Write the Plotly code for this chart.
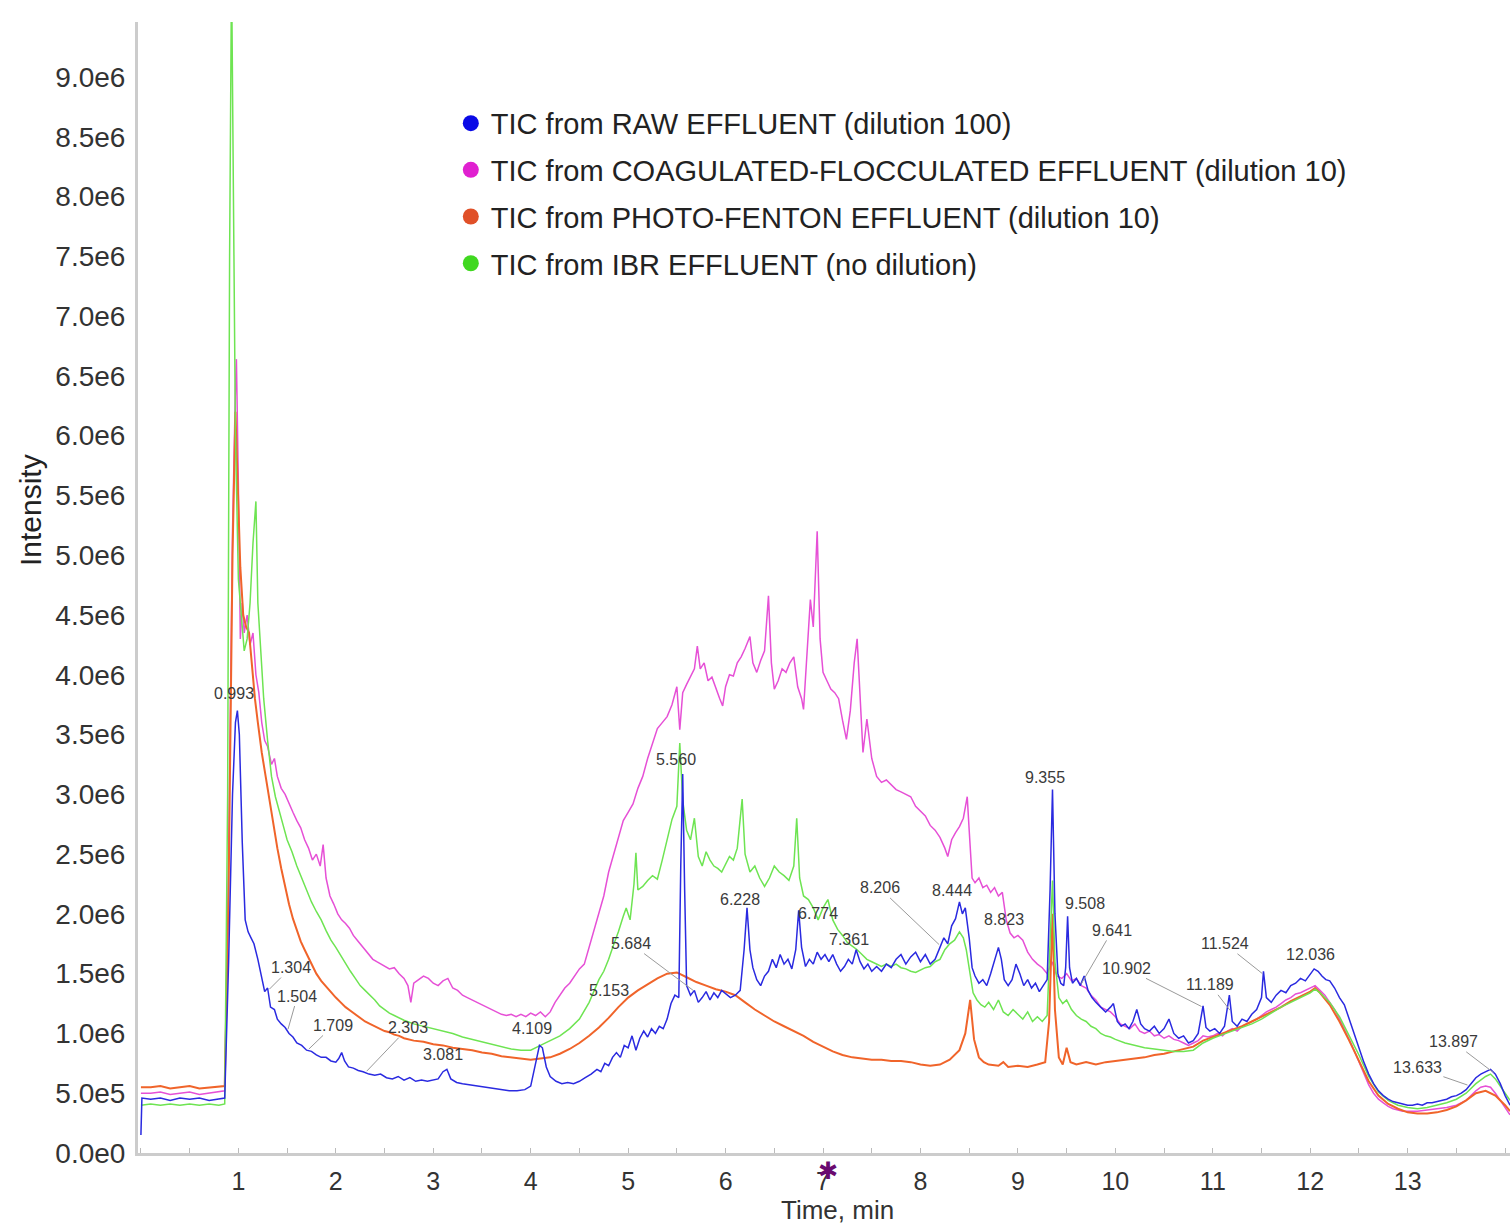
import plotly.graph_objects as go
import numpy as np

# ---------------- data (intensity in units of 1e6 counts) ----------------
raw_t = [0.0, 0.01, 0.1, 0.2, 0.3, 0.4, 0.5, 0.6, 0.7, 0.8, 0.86, 0.9, 0.94, 0.97, 0.99, 1.01, 1.04, 1.07, 1.10, 1.13,
         1.16, 1.20, 1.24, 1.27, 1.30, 1.33, 1.37, 1.40, 1.44, 1.48, 1.52, 1.56, 1.60, 1.65, 1.70, 1.75, 1.80, 1.85, 1.90, 1.95,
         2.00, 2.03, 2.06, 2.09, 2.13, 2.18, 2.23, 2.28, 2.34, 2.40, 2.46, 2.52, 2.58, 2.64, 2.70, 2.76, 2.82, 2.88, 2.94, 3.00,
         3.05, 3.10, 3.14, 3.18, 3.24, 3.30, 3.38, 3.46, 3.54, 3.62, 3.70, 3.78, 3.86, 3.94, 4.00, 4.05, 4.09, 4.12, 4.16, 4.20,
         4.26, 4.32, 4.38, 4.44, 4.50, 4.56, 4.62, 4.68, 4.72, 4.76, 4.80, 4.84, 4.88, 4.92, 4.96, 5.00, 5.04, 5.08, 5.12, 5.16,
         5.20, 5.24, 5.28, 5.32, 5.36, 5.40, 5.44, 5.48, 5.52, 5.54, 5.56, 5.58, 5.60, 5.64, 5.68, 5.72, 5.76, 5.80, 5.84, 5.88,
         5.92, 5.96, 6.00, 6.05, 6.10, 6.15, 6.19, 6.22, 6.25, 6.28, 6.32, 6.36, 6.40, 6.44, 6.48, 6.52, 6.56, 6.60, 6.64, 6.68,
         6.72, 6.75, 6.78, 6.82, 6.86, 6.90, 6.94, 6.98, 7.02, 7.06, 7.10, 7.14, 7.18, 7.22, 7.26, 7.30, 7.34, 7.38, 7.42, 7.46,
         7.50, 7.55, 7.60, 7.65, 7.70, 7.75, 7.80, 7.85, 7.90, 7.95, 8.00, 8.05, 8.10, 8.15, 8.20, 8.24, 8.28, 8.32, 8.36, 8.40,
         8.43, 8.46, 8.50, 8.53, 8.56, 8.60, 8.64, 8.68, 8.72, 8.76, 8.80, 8.83, 8.86, 8.90, 8.94, 8.98, 9.02, 9.06, 9.10, 9.14,
         9.18, 9.22, 9.26, 9.30, 9.33, 9.355, 9.38, 9.41, 9.44, 9.47, 9.49, 9.51, 9.53, 9.56, 9.60, 9.64, 9.68, 9.72, 9.76, 9.80,
         9.85, 9.90, 9.95, 9.98, 10.02, 10.06, 10.10, 10.14, 10.18, 10.22, 10.26, 10.30, 10.35, 10.40, 10.45, 10.50, 10.55, 10.60, 10.65, 10.70,
         10.75, 10.80, 10.85, 10.90, 10.93, 10.97, 11.02, 11.07, 11.12, 11.17, 11.20, 11.25, 11.30, 11.35, 11.40, 11.45, 11.50, 11.52, 11.55, 11.60,
         11.65, 11.70, 11.75, 11.80, 11.85, 11.90, 11.95, 12.00, 12.04, 12.08, 12.12, 12.16, 12.20, 12.25, 12.30, 12.35, 12.40, 12.45, 12.50, 12.55,
         12.60, 12.65, 12.70, 12.75, 12.80, 12.85, 12.90, 12.95, 13.00, 13.05, 13.10, 13.15, 13.20, 13.25, 13.30, 13.35, 13.40, 13.45, 13.50, 13.55,
         13.60, 13.65, 13.70, 13.75, 13.80, 13.85, 13.90, 13.95, 14.00, 14.05]
raw_i = [0.15, 0.46, 0.45, 0.46, 0.44, 0.46, 0.45, 0.46, 0.44, 0.45, 0.46, 1.60, 3.00, 3.60, 3.70, 3.50, 2.60, 1.95, 1.85, 1.80,
         1.75, 1.62, 1.45, 1.35, 1.38, 1.22, 1.20, 1.12, 1.08, 1.05, 1.00, 0.97, 0.92, 0.90, 0.86, 0.85, 0.82, 0.80, 0.80, 0.77,
         0.76, 0.79, 0.84, 0.77, 0.72, 0.71, 0.69, 0.68, 0.66, 0.65, 0.66, 0.63, 0.62, 0.64, 0.61, 0.63, 0.60, 0.61, 0.60, 0.61,
         0.62, 0.68, 0.70, 0.62, 0.59, 0.58, 0.57, 0.56, 0.55, 0.54, 0.53, 0.52, 0.52, 0.53, 0.56, 0.75, 0.90, 0.88, 0.72, 0.64,
         0.60, 0.58, 0.59, 0.58, 0.60, 0.63, 0.66, 0.70, 0.68, 0.75, 0.73, 0.80, 0.84, 0.80, 0.90, 0.88, 0.98, 0.86, 0.96, 1.02,
         0.97, 1.04, 1.00, 1.06, 1.04, 1.12, 1.25, 1.32, 1.30, 2.40, 3.17, 2.20, 1.40, 1.32, 1.36, 1.26, 1.30, 1.35, 1.28, 1.34,
         1.30, 1.36, 1.33, 1.30, 1.32, 1.36, 1.70, 2.05, 1.70, 1.55, 1.45, 1.40, 1.48, 1.52, 1.62, 1.55, 1.66, 1.58, 1.62, 1.54,
         1.70, 2.03, 1.72, 1.56, 1.62, 1.58, 1.68, 1.62, 1.66, 1.60, 1.66, 1.58, 1.52, 1.56, 1.62, 1.58, 1.70, 1.60, 1.54, 1.58,
         1.52, 1.56, 1.52, 1.58, 1.55, 1.62, 1.66, 1.58, 1.64, 1.68, 1.60, 1.66, 1.58, 1.62, 1.72, 1.80, 1.75, 1.90, 1.96, 2.10,
         2.00, 2.05, 1.80, 1.55, 1.48, 1.42, 1.45, 1.40, 1.50, 1.62, 1.72, 1.62, 1.45, 1.40, 1.45, 1.58, 1.50, 1.40, 1.45, 1.38,
         1.42, 1.35, 1.40, 1.45, 2.20, 3.04, 2.00, 1.50, 1.42, 1.40, 1.55, 1.98, 1.55, 1.42, 1.46, 1.40, 1.48, 1.36, 1.30, 1.26,
         1.22, 1.18, 1.22, 1.25, 1.10, 1.06, 1.08, 1.04, 1.10, 1.20, 1.08, 1.04, 1.02, 1.06, 1.00, 1.04, 1.12, 1.00, 0.96, 0.98,
         0.92, 0.94, 1.00, 1.23, 1.05, 1.02, 1.04, 1.00, 1.06, 1.32, 1.10, 1.06, 1.12, 1.10, 1.16, 1.20, 1.30, 1.52, 1.30, 1.26,
         1.32, 1.36, 1.34, 1.40, 1.42, 1.46, 1.44, 1.50, 1.54, 1.52, 1.48, 1.45, 1.44, 1.38, 1.30, 1.24, 1.12, 1.00, 0.88, 0.76,
         0.66, 0.58, 0.52, 0.48, 0.45, 0.43, 0.42, 0.41, 0.40, 0.40, 0.41, 0.40, 0.42, 0.42, 0.43, 0.44, 0.45, 0.47, 0.48, 0.50,
         0.53, 0.58, 0.63, 0.66, 0.68, 0.70, 0.66, 0.58, 0.48, 0.40]

coag_t = [0.0, 0.1, 0.2, 0.3, 0.4, 0.5, 0.6, 0.7, 0.8, 0.86, 0.90, 0.94, 0.97, 0.98, 1.00, 1.02, 1.04, 1.06, 1.09, 1.12,
          1.15, 1.18, 1.21, 1.24, 1.27, 1.30, 1.34, 1.37, 1.40, 1.44, 1.48, 1.52, 1.56, 1.60, 1.64, 1.68, 1.72, 1.76, 1.80, 1.84,
          1.87, 1.90, 1.94, 1.98, 2.02, 2.06, 2.10, 2.14, 2.18, 2.22, 2.26, 2.30, 2.34, 2.38, 2.42, 2.46, 2.50, 2.55, 2.60, 2.65,
          2.70, 2.74, 2.77, 2.80, 2.85, 2.90, 2.95, 3.00, 3.05, 3.10, 3.15, 3.20, 3.25, 3.30, 3.35, 3.40, 3.45, 3.50, 3.55, 3.60,
          3.65, 3.70, 3.75, 3.80, 3.85, 3.90, 3.95, 4.00, 4.05, 4.10, 4.15, 4.20, 4.25, 4.30, 4.35, 4.40, 4.45, 4.50, 4.55, 4.60,
          4.65, 4.70, 4.75, 4.80, 4.85, 4.90, 4.95, 5.00, 5.05, 5.10, 5.15, 5.20, 5.25, 5.30, 5.35, 5.40, 5.45, 5.50, 5.53, 5.56,
          5.60, 5.64, 5.68, 5.71, 5.74, 5.78, 5.82, 5.86, 5.90, 5.94, 5.97, 6.00, 6.04, 6.08, 6.12, 6.16, 6.20, 6.25, 6.28, 6.32,
          6.36, 6.40, 6.44, 6.47, 6.50, 6.54, 6.58, 6.62, 6.66, 6.70, 6.74, 6.78, 6.80, 6.84, 6.87, 6.90, 6.94, 6.97, 7.00, 7.04,
          7.08, 7.12, 7.16, 7.20, 7.24, 7.28, 7.32, 7.35, 7.38, 7.41, 7.45, 7.50, 7.55, 7.60, 7.65, 7.70, 7.75, 7.80, 7.85, 7.90,
          7.95, 8.00, 8.05, 8.10, 8.15, 8.20, 8.25, 8.28, 8.32, 8.36, 8.40, 8.44, 8.48, 8.50, 8.53, 8.56, 8.60, 8.64, 8.68, 8.72,
          8.76, 8.80, 8.84, 8.88, 8.92, 8.96, 9.00, 9.05, 9.10, 9.15, 9.20, 9.25, 9.30, 9.35, 9.40, 9.45, 9.50, 9.55, 9.60, 9.65,
          9.70, 9.75, 9.80, 9.85, 9.90, 9.95, 10.00, 10.05, 10.10, 10.15, 10.20, 10.25, 10.30, 10.35, 10.40, 10.45, 10.50, 10.55, 10.60, 10.65,
          10.70, 10.75, 10.80, 10.85, 10.90, 10.95, 11.00, 11.05, 11.10, 11.15, 11.20, 11.25, 11.30, 11.35, 11.40, 11.45, 11.50, 11.55, 11.60, 11.65,
          11.70, 11.75, 11.80, 11.85, 11.90, 11.95, 12.00, 12.05, 12.10, 12.15, 12.20, 12.25, 12.30, 12.35, 12.40, 12.45, 12.50, 12.55, 12.60, 12.65,
          12.70, 12.75, 12.80, 12.85, 12.90, 12.95, 13.00, 13.10, 13.20, 13.30, 13.40, 13.50, 13.60, 13.65, 13.70, 13.75, 13.80, 13.85, 13.90, 13.95,
          14.00, 14.05]
coag_i = [0.50, 0.50, 0.51, 0.49, 0.50, 0.51, 0.49, 0.50, 0.51, 0.52, 2.50, 5.20, 6.40, 6.64, 5.60, 4.30, 4.60, 4.35, 4.50, 4.25,
          4.35, 4.00, 3.85, 3.60, 3.45, 3.40, 3.25, 3.30, 3.15, 3.05, 3.00, 2.92, 2.85, 2.78, 2.72, 2.62, 2.55, 2.45, 2.50, 2.40,
          2.58, 2.30, 2.15, 2.08, 2.00, 1.95, 1.92, 1.88, 1.82, 1.78, 1.74, 1.70, 1.66, 1.62, 1.60, 1.58, 1.56, 1.54, 1.55, 1.50,
          1.46, 1.40, 1.26, 1.42, 1.45, 1.48, 1.46, 1.42, 1.40, 1.44, 1.46, 1.38, 1.36, 1.32, 1.30, 1.28, 1.26, 1.24, 1.22, 1.20,
          1.18, 1.16, 1.15, 1.16, 1.14, 1.16, 1.14, 1.17, 1.15, 1.18, 1.14, 1.18, 1.26, 1.32, 1.38, 1.42, 1.48, 1.54, 1.58, 1.72,
          1.86, 2.00, 2.15, 2.35, 2.50, 2.65, 2.78, 2.85, 2.92, 3.05, 3.15, 3.30, 3.42, 3.55, 3.60, 3.65, 3.75, 3.90, 3.54, 3.85,
          3.92, 3.98, 4.05, 4.24, 4.05, 4.10, 3.95, 3.98, 3.88, 3.80, 3.74, 3.90, 4.00, 3.99, 4.10, 4.15, 4.22, 4.32, 4.10, 4.02,
          4.12, 4.20, 4.66, 4.10, 3.88, 3.95, 4.05, 4.02, 4.10, 4.15, 3.90, 3.80, 3.71, 4.20, 4.63, 4.40, 5.20, 4.30, 4.02, 3.95,
          3.88, 3.85, 3.80, 3.62, 3.46, 3.70, 4.10, 4.30, 3.80, 3.35, 3.63, 3.30, 3.15, 3.10, 3.12, 3.08, 3.04, 3.02, 3.00, 2.98,
          2.90, 2.86, 2.82, 2.74, 2.70, 2.64, 2.55, 2.48, 2.62, 2.68, 2.73, 2.80, 2.98, 2.70, 2.30, 2.26, 2.30, 2.22, 2.24, 2.18,
          2.22, 2.15, 2.18, 1.95, 1.84, 1.80, 1.82, 1.78, 1.68, 1.62, 1.58, 1.55, 1.50, 1.60, 1.48, 1.46, 1.50, 1.44, 1.46, 1.40,
          1.38, 1.32, 1.28, 1.22, 1.20, 1.18, 1.14, 1.08, 1.06, 1.04, 1.08, 1.02, 1.00, 1.02, 0.98, 0.99, 0.96, 0.98, 0.95, 0.94,
          0.92, 0.90, 0.92, 0.94, 0.98, 0.97, 0.98, 1.00, 0.98, 1.02, 1.04, 1.02, 1.06, 1.08, 1.10, 1.12, 1.15, 1.18, 1.20, 1.22,
          1.25, 1.28, 1.30, 1.33, 1.34, 1.36, 1.38, 1.40, 1.36, 1.32, 1.26, 1.20, 1.12, 1.04, 0.95, 0.86, 0.76, 0.66, 0.57, 0.50,
          0.45, 0.42, 0.39, 0.37, 0.36, 0.35, 0.35, 0.35, 0.36, 0.37, 0.38, 0.40, 0.44, 0.48, 0.52, 0.55, 0.56, 0.55, 0.50, 0.44,
          0.38, 0.32]

photo_t = [0.0, 0.1, 0.2, 0.3, 0.4, 0.5, 0.6, 0.7, 0.8, 0.86, 0.90, 0.94, 0.97, 0.99, 1.02, 1.05, 1.08, 1.11, 1.14, 1.17,
           1.20, 1.24, 1.28, 1.32, 1.36, 1.40, 1.44, 1.48, 1.52, 1.56, 1.60, 1.64, 1.68, 1.72, 1.76, 1.80, 1.85, 1.90, 1.95, 2.00,
           2.05, 2.10, 2.15, 2.20, 2.25, 2.30, 2.35, 2.40, 2.45, 2.50, 2.55, 2.60, 2.65, 2.70, 2.80, 2.90, 3.00, 3.10, 3.20, 3.30,
           3.40, 3.50, 3.60, 3.70, 3.80, 3.90, 4.00, 4.10, 4.20, 4.30, 4.40, 4.50, 4.60, 4.70, 4.80, 4.90, 5.00, 5.10, 5.20, 5.30,
           5.40, 5.50, 5.60, 5.70, 5.80, 5.90, 6.00, 6.10, 6.20, 6.30, 6.40, 6.50, 6.60, 6.70, 6.80, 6.90, 7.00, 7.10, 7.20, 7.30,
           7.40, 7.50, 7.60, 7.70, 7.80, 7.90, 8.00, 8.10, 8.20, 8.30, 8.40, 8.46, 8.51, 8.55, 8.60, 8.65, 8.70, 8.80, 8.85, 8.90,
           9.00, 9.10, 9.20, 9.28, 9.32, 9.355, 9.38, 9.42, 9.46, 9.50, 9.54, 9.60, 9.70, 9.80, 9.90, 10.00, 10.10, 10.20, 10.30, 10.40,
           10.50, 10.60, 10.70, 10.80, 10.90, 11.00, 11.10, 11.20, 11.30, 11.40, 11.50, 11.60, 11.70, 11.80, 11.90, 12.00, 12.05, 12.10, 12.20, 12.30,
           12.40, 12.50, 12.60, 12.70, 12.80, 12.90, 13.00, 13.10, 13.20, 13.30, 13.40, 13.50, 13.60, 13.70, 13.80, 13.90, 14.00, 14.05]
photo_i = [0.55, 0.55, 0.56, 0.54, 0.55, 0.56, 0.54, 0.55, 0.56, 0.56, 2.20, 5.00, 6.20, 5.60, 4.90, 4.50, 4.40, 4.35, 4.05, 3.80,
           3.60, 3.35, 3.15, 2.95, 2.72, 2.55, 2.38, 2.22, 2.08, 1.96, 1.86, 1.77, 1.70, 1.63, 1.56, 1.50, 1.44, 1.39, 1.34, 1.30,
           1.26, 1.22, 1.19, 1.16, 1.13, 1.10, 1.08, 1.06, 1.04, 1.02, 1.01, 0.99, 0.98, 0.96, 0.94, 0.93, 0.91, 0.90, 0.88, 0.87,
           0.86, 0.84, 0.83, 0.81, 0.80, 0.79, 0.78, 0.79, 0.80, 0.83, 0.87, 0.92, 0.98, 1.05, 1.13, 1.22, 1.30, 1.36, 1.41, 1.46,
           1.50, 1.51, 1.47, 1.43, 1.40, 1.37, 1.35, 1.32, 1.26, 1.20, 1.15, 1.10, 1.06, 1.02, 0.98, 0.93, 0.89, 0.85, 0.82, 0.80,
           0.79, 0.78, 0.78, 0.77, 0.77, 0.76, 0.74, 0.73, 0.74, 0.78, 0.86, 1.00, 1.28, 0.95, 0.80, 0.76, 0.74, 0.73, 0.76, 0.72,
           0.73, 0.72, 0.74, 0.76, 1.10, 2.00, 1.20, 0.80, 0.74, 0.88, 0.76, 0.74, 0.76, 0.74, 0.76, 0.77, 0.78, 0.79, 0.80, 0.82,
           0.83, 0.85, 0.87, 0.89, 0.94, 0.97, 1.00, 1.03, 1.06, 1.10, 1.14, 1.18, 1.22, 1.27, 1.31, 1.35, 1.38, 1.34, 1.24, 1.10,
           0.94, 0.77, 0.60, 0.48, 0.41, 0.37, 0.34, 0.33, 0.33, 0.34, 0.36, 0.39, 0.44, 0.50, 0.52, 0.48, 0.40, 0.35]

ibr_t = [0.0, 0.1, 0.2, 0.3, 0.4, 0.5, 0.6, 0.7, 0.8, 0.86, 0.89, 0.91, 0.93, 0.95, 0.97, 1.00, 1.03, 1.06, 1.09, 1.12,
         1.15, 1.18, 1.20, 1.23, 1.26, 1.30, 1.34, 1.38, 1.42, 1.46, 1.50, 1.55, 1.60, 1.65, 1.70, 1.75, 1.80, 1.85, 1.90, 1.95,
         2.00, 2.05, 2.10, 2.15, 2.20, 2.25, 2.30, 2.35, 2.40, 2.45, 2.50, 2.55, 2.60, 2.65, 2.70, 2.80, 2.90, 3.00, 3.10, 3.20,
         3.30, 3.40, 3.50, 3.60, 3.70, 3.80, 3.90, 4.00, 4.10, 4.20, 4.30, 4.40, 4.50, 4.60, 4.65, 4.70, 4.75, 4.80, 4.85, 4.90,
         4.95, 4.98, 5.02, 5.06, 5.08, 5.10, 5.15, 5.20, 5.25, 5.30, 5.35, 5.40, 5.45, 5.50, 5.53, 5.56, 5.60, 5.64, 5.68, 5.72,
         5.76, 5.80, 5.84, 5.88, 5.92, 5.96, 6.00, 6.04, 6.08, 6.12, 6.17, 6.20, 6.25, 6.30, 6.35, 6.40, 6.45, 6.50, 6.55, 6.60,
         6.65, 6.70, 6.73, 6.76, 6.80, 6.85, 6.90, 6.95, 7.00, 7.05, 7.10, 7.15, 7.20, 7.25, 7.30, 7.35, 7.40, 7.45, 7.50, 7.55,
         7.60, 7.65, 7.70, 7.75, 7.80, 7.85, 7.90, 7.95, 8.00, 8.05, 8.10, 8.15, 8.20, 8.25, 8.30, 8.35, 8.40, 8.44, 8.47, 8.50,
         8.54, 8.58, 8.62, 8.66, 8.70, 8.75, 8.80, 8.85, 8.90, 8.95, 9.00, 9.05, 9.10, 9.15, 9.20, 9.25, 9.30, 9.33, 9.355, 9.38,
         9.42, 9.46, 9.50, 9.55, 9.60, 9.65, 9.70, 9.75, 9.80, 9.85, 9.90, 9.95, 10.00, 10.10, 10.20, 10.30, 10.40, 10.50, 10.60, 10.70,
         10.80, 10.90, 11.00, 11.10, 11.20, 11.30, 11.40, 11.50, 11.60, 11.70, 11.80, 11.90, 12.00, 12.05, 12.10, 12.20, 12.30, 12.40, 12.50, 12.60,
         12.70, 12.80, 12.90, 13.00, 13.10, 13.20, 13.30, 13.40, 13.50, 13.60, 13.70, 13.80, 13.85, 13.90, 14.00, 14.05]
ibr_i = [0.40, 0.41, 0.40, 0.41, 0.40, 0.41, 0.40, 0.41, 0.40, 0.41, 3.00, 7.50, 9.90, 8.00, 6.00, 4.80, 4.50, 4.20, 4.30, 4.60,
         5.10, 5.45, 4.60, 4.20, 3.80, 3.45, 3.15, 2.98, 2.85, 2.74, 2.62, 2.52, 2.40, 2.30, 2.20, 2.10, 2.02, 1.95, 1.86, 1.78,
         1.72, 1.65, 1.58, 1.52, 1.46, 1.40, 1.36, 1.32, 1.28, 1.23, 1.20, 1.17, 1.15, 1.13, 1.11, 1.08, 1.06, 1.04, 1.02, 1.00,
         0.97, 0.95, 0.93, 0.91, 0.89, 0.87, 0.86, 0.86, 0.90, 0.94, 0.98, 1.04, 1.12, 1.26, 1.36, 1.45, 1.52, 1.62, 1.74, 1.85,
         1.98, 2.05, 1.95, 2.25, 2.51, 2.20, 2.23, 2.28, 2.32, 2.29, 2.45, 2.62, 2.79, 2.90, 3.43, 2.95, 2.70, 2.62, 2.80, 2.48,
         2.40, 2.52, 2.45, 2.40, 2.38, 2.35, 2.42, 2.48, 2.45, 2.55, 2.96, 2.50, 2.35, 2.40, 2.30, 2.23, 2.30, 2.40, 2.35, 2.32,
         2.28, 2.40, 2.80, 2.30, 2.15, 2.12, 2.05, 1.95, 2.05, 2.12, 1.95, 1.87, 1.82, 1.76, 1.73, 1.70, 1.66, 1.62, 1.60, 1.58,
         1.56, 1.58, 1.56, 1.58, 1.55, 1.54, 1.52, 1.51, 1.53, 1.55, 1.56, 1.60, 1.62, 1.70, 1.75, 1.78, 1.85, 1.80, 1.70, 1.56,
         1.34, 1.28, 1.24, 1.22, 1.26, 1.20, 1.28, 1.18, 1.15, 1.20, 1.16, 1.12, 1.18, 1.10, 1.14, 1.10, 1.15, 1.80, 2.28, 1.60,
         1.30, 1.25, 1.28, 1.20, 1.15, 1.12, 1.10, 1.06, 1.04, 1.00, 0.98, 0.97, 0.95, 0.92, 0.90, 0.88, 0.87, 0.86, 0.85, 0.85,
         0.86, 0.92, 0.96, 0.99, 1.02, 1.05, 1.08, 1.12, 1.17, 1.22, 1.26, 1.30, 1.34, 1.37, 1.34, 1.26, 1.14, 0.98, 0.82, 0.64,
         0.51, 0.44, 0.40, 0.38, 0.37, 0.38, 0.40, 0.42, 0.45, 0.50, 0.58, 0.64, 0.66, 0.62, 0.50, 0.44]

series_names = ["TIC from RAW EFFLUENT (dilution 100)",
                "TIC from COAGULATED-FLOCCULATED EFFLUENT (dilution 10)",
                "TIC from PHOTO-FENTON EFFLUENT (dilution 10)",
                "TIC from IBR EFFLUENT (no dilution)"]

# peak labels: (retention time text, offset of label from the RAW trace point in px, leader line)
peak_labels = [("0.993", -4, -21, False), ("1.304", 23, -23, True), ("1.504", 10, -35, True),
               ("1.709", 26, -25, True), ("2.303", 43, -45, True), ("3.081", 2, -20, False),
               ("4.109", -9, -18, False), ("5.153", -34, -42, False), ("5.684", -64, -48, True),
               ("5.560", -7, -15, False), ("6.228", -8, -20, False), ("6.774", 17, -26, False),
               ("7.361", -9, -17, False), ("8.206", -61, -58, True), ("8.444", -12, -21, False),
               ("8.823", 3, -37, False), ("9.355", -8, -12, False), ("9.508", 18, -18, False),
               ("9.641", 32, -55, True), ("10.902", -77, -39, True), ("11.189", -21, -27, True),
               ("11.524", -39, -31, True), ("12.036", -3, -15, False), ("13.633", -52, -18, True),
               ("13.897", -42, -32, True)]

y_ticks = [i * 0.5 for i in range(19)]
y_tick_text = ["0.0e0", "5.0e5"] + ["%.1fe6" % v for v in y_ticks[2:]]
x_ticks = list(range(1, 14))

SCALE = 1e6
FONT = "Liberation Sans, Arial, sans-serif"

line_colors = ["#2a2ae0", "#e650d6", "#f0642a", "#6ee452"]
line_widths = [1.5, 1.5, 2.0, 1.5]
dot_colors = ["#0a0ae6", "#e020d0", "#e05028", "#40d820"]
series = [(raw_t, raw_i), (coag_t, coag_i), (photo_t, photo_i), (ibr_t, ibr_i)]

fig = go.Figure()

# draw order: coag, photo, ibr, raw on top
for idx in [1, 2, 3, 0]:
    t, v = series[idx]
    fig.add_trace(go.Scatter(x=t, y=[a * SCALE for a in v], mode="lines",
                             line=dict(color=line_colors[idx], width=line_widths[idx]),
                             showlegend=False, hoverinfo="skip"))

# legend entries (dots)
for idx in range(4):
    fig.add_trace(go.Scatter(x=[None], y=[None], mode="markers", name=series_names[idx],
                             marker=dict(color=dot_colors[idx], size=16),
                             legendgroup="g%d" % idx, showlegend=True))

# start marker on the y axis
fig.add_trace(go.Scatter(x=[-0.06], y=[raw_i[1] * SCALE], mode="markers",
                         marker=dict(symbol="triangle-right", size=15, color="#101070"),
                         showlegend=False, cliponaxis=False, hoverinfo="skip"))

# peak labels
for txt, dx, dy, leader in peak_labels:
    tt = float(txt)
    yy = float(np.interp(tt, raw_t, raw_i)) * SCALE
    fig.add_annotation(x=tt, y=yy, text=txt, showarrow=True, ax=dx, ay=dy,
                       arrowhead=0, arrowwidth=1, standoff=2,
                       arrowcolor="#9a9a9a" if leader else "rgba(0,0,0,0)",
                       font=dict(family=FONT, size=16, color="#3a3a3a"))

# asterisk over the time axis
fig.add_annotation(x=7.05, y=-0.002, xref="x", yref="paper", text="✱", showarrow=False,
                   yanchor="top", font=dict(size=24, color="#6a0a70"))

# axis titles
fig.add_annotation(x=0.510, y=-0.0504, xref="paper", yref="paper", text="Time, min", showarrow=False,
                   xanchor="center", yanchor="middle", font=dict(family=FONT, size=26, color="#333333"))
fig.add_annotation(x=-0.0787, y=0.5685, xref="paper", yref="paper", text="Intensity", showarrow=False,
                   textangle=-90, xanchor="center", yanchor="middle",
                   font=dict(family=FONT, size=30, color="#222222"))

fig.update_layout(
    width=1510, height=1224,
    margin=dict(l=138, r=0, t=22, b=71),
    paper_bgcolor="white", plot_bgcolor="white",
    font=dict(family=FONT, color="#333333"),
    legend=dict(x=0.228, y=0.933, xanchor="left", yanchor="top",
                font=dict(family=FONT, size=29, color="#222222"),
                bgcolor="rgba(255,255,255,0)", tracegroupgap=6),
    xaxis=dict(range=[-0.03, 14.05], tickvals=x_ticks, ticktext=[str(v) for v in x_ticks],
               showgrid=False, zeroline=False, showline=True, linecolor="#cccccc", linewidth=3,
               ticks="inside", ticklen=5, tickcolor="#bbbbbb",
               minor=dict(dtick=0.5, ticks="inside", ticklen=5, tickcolor="#bbbbbb"),
               tickfont=dict(family=FONT, size=25, color="#333333"), ticklabelstandoff=4),
    yaxis=dict(range=[0, 9.46 * SCALE], tickvals=[v * SCALE for v in y_ticks], ticktext=y_tick_text,
               showgrid=False, zeroline=False, showline=True, linecolor="#cccccc", linewidth=3,
               ticks="", tickfont=dict(family=FONT, size=28, color="#333333"), ticklabelstandoff=4),
)

fig.write_html("out.html")
